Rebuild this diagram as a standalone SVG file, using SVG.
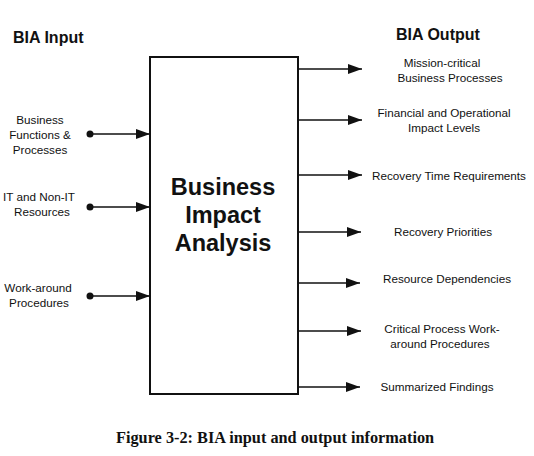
<svg xmlns="http://www.w3.org/2000/svg" width="534" height="456" viewBox="0 0 534 456">
<style>
.lbl{font-family:"Liberation Sans",Arial,sans-serif;font-size:11.7px;fill:#111;text-anchor:middle}
.hdr{font-family:"Liberation Sans",Arial,sans-serif;font-size:16px;font-weight:bold;fill:#111}
.big{font-family:"Liberation Sans",Arial,sans-serif;font-size:23.5px;font-weight:bold;fill:#111;text-anchor:middle}
.cap{font-family:"Liberation Serif","Times New Roman",serif;font-size:16.3px;font-weight:bold;fill:#111}
.ln{stroke:#111;stroke-width:1.5;fill:none}
</style>
<defs>
<marker id="ah" markerWidth="14" markerHeight="10" refX="14" refY="5" orient="auto" markerUnits="userSpaceOnUse">
<path d="M0,0 L14,5 L0,10 Z" fill="#111"/>
</marker>
</defs>
<rect width="534" height="456" fill="#fff"/>
<text class="hdr" x="13" y="43">BIA Input</text>
<text class="hdr" x="396" y="40">BIA Output</text>
<g id="bia">
<rect x="150" y="57" width="148" height="337" fill="#fff" stroke="#111" stroke-width="2"/>
<text class="big" x="223" y="195">Business</text>
<text class="big" x="223" y="223">Impact</text>
<text class="big" x="223" y="251">Analysis</text>
</g>
<g id="in1"><text class="lbl" x="40" y="124">Business</text><text class="lbl" x="40" y="139">Functions &amp;</text><text class="lbl" x="40" y="154">Processes</text></g>
<g id="in2"><text class="lbl" x="39" y="201">IT and Non-IT</text><text class="lbl" x="42" y="216">Resources</text></g>
<g id="in3"><text class="lbl" x="38" y="292">Work-around</text><text class="lbl" x="39" y="307">Procedures</text></g>
<g id="out1"><text class="lbl" x="442" y="67">Mission-critical</text><text class="lbl" x="450" y="82">Business Processes</text></g>
<g id="out2"><text class="lbl" x="444" y="117">Financial and Operational</text><text class="lbl" x="444" y="132">Impact Levels</text></g>
<g id="out3"><text class="lbl" x="449" y="180">Recovery Time Requirements</text></g>
<g id="out4"><text class="lbl" x="443" y="236">Recovery Priorities</text></g>
<g id="out5"><text class="lbl" x="447" y="283">Resource Dependencies</text></g>
<g id="out6"><text class="lbl" x="442" y="333">Critical Process Work-</text><text class="lbl" x="440" y="348">around Procedures</text></g>
<g id="out7"><text class="lbl" x="437" y="391">Summarized Findings</text></g>
<g id="connectors">
<circle cx="90" cy="134" r="3.5" fill="#111"/>
<circle cx="90" cy="207" r="3.5" fill="#111"/>
<circle cx="90" cy="296" r="3.5" fill="#111"/>
<line class="ln" x1="90" y1="134" x2="150" y2="134" marker-end="url(#ah)"/>
<line class="ln" x1="90" y1="207" x2="150" y2="207" marker-end="url(#ah)"/>
<line class="ln" x1="90" y1="296" x2="150" y2="296" marker-end="url(#ah)"/>
<line class="ln" x1="298" y1="69" x2="362" y2="69" marker-end="url(#ah)"/>
<line class="ln" x1="298" y1="120" x2="362" y2="120" marker-end="url(#ah)"/>
<line class="ln" x1="298" y1="175" x2="362" y2="175" marker-end="url(#ah)"/>
<line class="ln" x1="298" y1="232" x2="361" y2="232" marker-end="url(#ah)"/>
<line class="ln" x1="298" y1="283" x2="360" y2="283" marker-end="url(#ah)"/>
<line class="ln" x1="298" y1="331" x2="361" y2="331" marker-end="url(#ah)"/>
<line class="ln" x1="298" y1="387" x2="360" y2="387" marker-end="url(#ah)"/>
</g>
<text class="cap" x="116" y="443">Figure 3-2: BIA input and output information</text>
</svg>
